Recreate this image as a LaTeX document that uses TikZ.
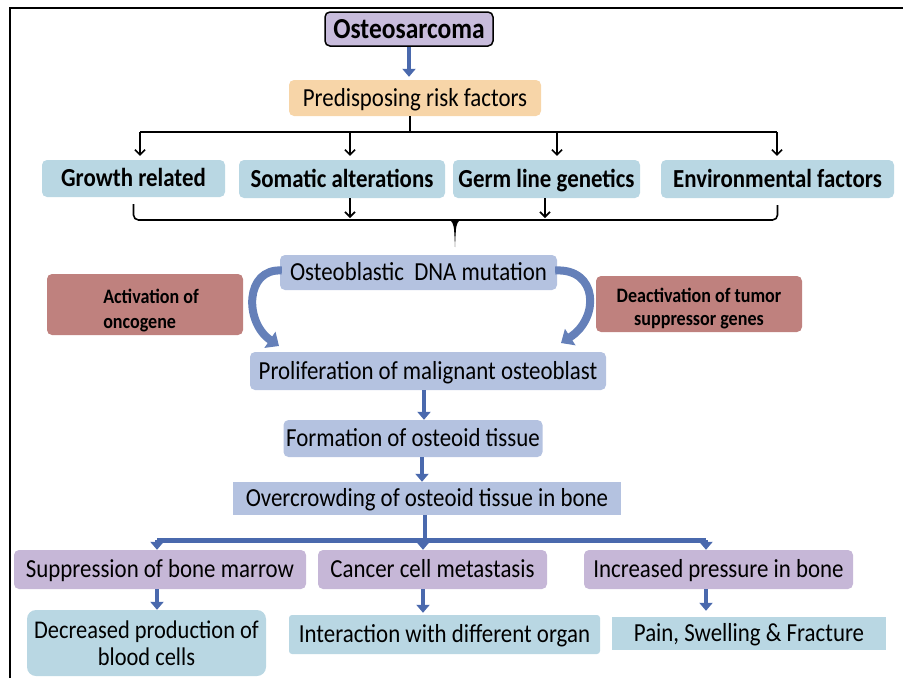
\documentclass[tikz,border=0pt]{standalone}
\usepackage{fontspec}
\setmainfont{Carlito}[FakeStretch=0.88]
\usetikzlibrary{arrows.meta,calc}
\definecolor{hdr}{HTML}{C8BCDC}
\definecolor{peach}{HTML}{F7D5A8}
\definecolor{lblue}{HTML}{B9D7E3}
\definecolor{lav}{HTML}{B4C2E0}
\definecolor{rose}{HTML}{BF817E}
\definecolor{purp}{HTML}{C6B7D7}
\definecolor{arrblue}{HTML}{4A69AD}
\begin{document}
\begin{tikzpicture}[x=1pt,y=-1pt,
  base/.style={rounded corners=5pt, inner sep=0pt, align=center, font=\fontsize{26}{27}\selectfont},
  box/.style={base, text height=21pt, text depth=4.5pt},
  sqbox/.style={box, rounded corners=0pt},
  bbox/.style={box, font=\fontsize{26}{28}\selectfont\bfseries},
  rbox/.style={base, fill=rose, font=\fontsize{20.5}{25}\selectfont\bfseries},
  barrow/.style={line width=1.6pt, -{Straight Barb[length=5pt,width=10pt]}},
  blarrow/.style={line width=4.5pt, arrblue, -{Triangle[width=13pt,length=8pt]}},
  curv/.style={line width=8pt, arrblue!85!white, -{Triangle[width=19pt,length=11pt]}}
]
\useasboundingbox (0,0) rectangle (903,678);
\draw[line width=2pt] (10,678) -- (10,8) -- (903,8);

% nodes
\node[box, fill=hdr, draw=black, line width=1.5pt, minimum width=168pt, minimum height=34pt,
      text height=23pt, text depth=4.3pt,
      font=\fontsize{29}{30}\selectfont\bfseries] (osteo) at (409,29) {Osteosarcoma};
\node[box, fill=peach, minimum width=252pt, minimum height=36pt] (pre) at (415,98) {Predisposing risk factors};
\node[bbox, fill=lblue, minimum width=183pt, minimum height=37pt] (growth) at (133.5,178.5) {Growth related};
\node[bbox, fill=lblue, minimum width=206pt, minimum height=38pt] (somatic) at (342,179) {Somatic alterations};
\node[bbox, fill=lblue, minimum width=187pt, minimum height=38pt] (germ) at (546.5,179) {Germ line genetics};
\node[bbox, fill=lblue, minimum width=233pt, minimum height=38pt] (env) at (777.5,179) {Environmental factors};
\node[box, fill=lav, minimum width=277pt, minimum height=35pt] (dna) at (418.5,272.5) {Osteoblastic\ \ DNA mutation};
\node[rbox, minimum width=196pt, minimum height=61pt, align=left] (act) at (145,304.5) {\rule{0pt}{27pt}\hspace*{12pt}Activation of\\\hspace*{12pt}oncogene};
\node[rbox, minimum width=206pt, minimum height=56pt, font=\fontsize{20.5}{23}\selectfont\bfseries] (deact) at (699,304) {\rule{0pt}{23pt}Deactivation of tumor\\suppressor genes};
\node[box, fill=lav, minimum width=356pt, minimum height=38pt] (prolif) at (428,371) {Proliferation of malignant osteoblast};
\node[box, fill=lav, minimum width=259pt, minimum height=37pt] (form) at (413,438.5) {Formation of osteoid tissue};
\node[sqbox, fill=lav, minimum width=388pt, minimum height=33pt] (over) at (427,498.5) {Overcrowding of osteoid tissue in bone};
\node[box, fill=purp, minimum width=292pt, minimum height=39pt] (supp) at (160,569.5) {Suppression of bone marrow};
\node[box, fill=purp, minimum width=229pt, minimum height=39pt] (cancer) at (432.5,569.5) {Cancer cell metastasis};
\node[box, fill=purp, minimum width=269pt, minimum height=39pt] (incr) at (718.5,569.5) {Increased pressure in bone};
\node[base, fill=lblue, minimum width=239pt, minimum height=66pt, rounded corners=9pt, font=\fontsize{25.5}{27}\selectfont] (decr) at (146.5,643) {Decreased production of\\blood cells};
\node[box, fill=lblue, minimum width=311pt, minimum height=39pt, rounded corners=3pt] (inter) at (444.5,634.5) {Interaction with different organ};
\node[sqbox, fill=lblue, minimum width=274pt, minimum height=33pt] (pain) at (749,633.5) {Pain, Swelling \& Fracture};

% top connectors
\draw[blarrow] (osteo.south) -- ($(pre.north)+(-6,-3)$) coordinate (preTop);
\coordinate (bus) at (410,132);
\coordinate (a1) at (140,132);
\coordinate (a2) at (350,132);
\coordinate (a3) at (557,132);
\coordinate (a4) at (777,132);
\draw[line width=1.6pt] (pre.south -| bus) -- (bus);
\draw[line width=1.6pt] (a1) -- (a4);
\foreach \c/\n in {a1/growth,a2/somatic,a3/germ,a4/env}
  \draw[barrow, shorten >=4pt] (\c) -- (\c |- \n.north);

% brace below
\coordinate (bm) at (455,220);
\draw[line width=1.6pt, rounded corners=5pt] ($(growth.south)+(0,7)$) |- (bm) -| ($(env.south)+(0,7)$);
\fill (450,220) .. controls (454,224) .. (455,247) .. controls (456,224) .. (460,220) -- cycle;
\coordinate (s1) at (350,220);
\coordinate (s2) at (545,220);
\draw[barrow, shorten >=2pt] (s1 |- somatic.south) -- (s1);
\draw[barrow, shorten >=2pt] (s2 |- germ.south) -- (s2);

% curved arrows
\draw[curv] ($(dna.west)+(2,-2)$) .. controls (245,268) and (244,322) .. (279,346);
\draw[curv] ($(dna.east)+(-2,-2)$) .. controls (598,268) and (600,318) .. (561,343);

% middle chain
\draw[blarrow] (prolif.south) ++(-4,0) coordinate (p1) -- (p1 |- form.north);
\coordinate (f1) at (422,457);
\draw[blarrow] (f1 |- form.south) -- (f1 |- over.north);

% bottom tree
\coordinate (ov) at (425,540);
\coordinate (d1) at (157,540);
\coordinate (d2) at (423,540);
\coordinate (d3) at (706,540);
\draw[line width=4.5pt, arrblue] (over.south -| ov) -- (ov);
\draw[line width=5pt, arrblue] (d1) -- (d3);
\foreach \c/\n in {d1/supp,d2/cancer,d3/incr}
  \draw[blarrow] (\c) -- (\c |- \n.north);
\draw[blarrow] (supp.south -| d1) -- (decr.north -| d1);
\draw[blarrow] (cancer.south -| d2) -- ($(inter.north -| d2)+(0,-2)$);
\draw[blarrow] (incr.south -| d3) -- ($(pain.north -| d3)+(0,-6)$);
\end{tikzpicture}
\end{document}
